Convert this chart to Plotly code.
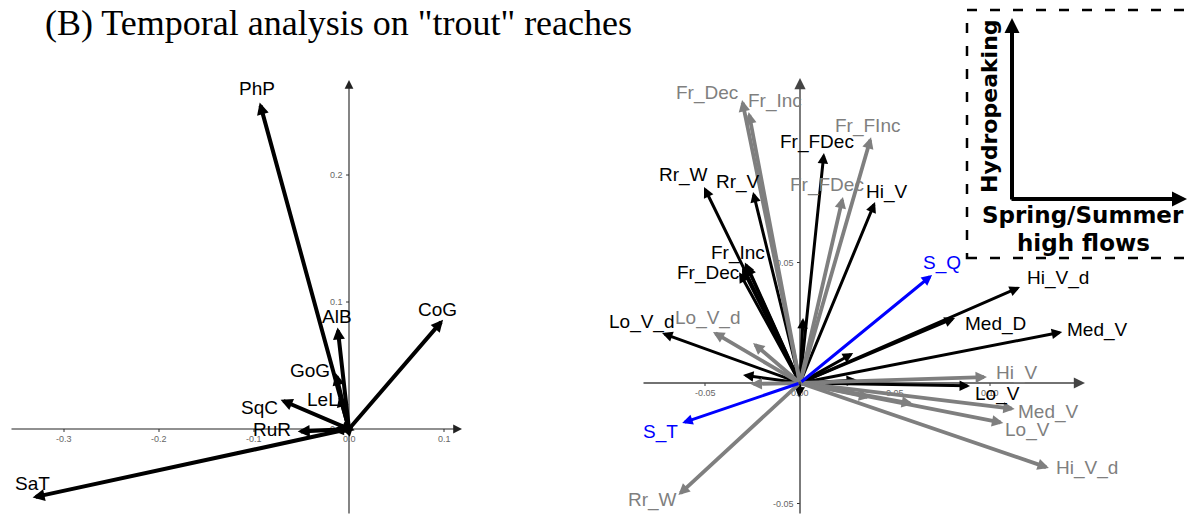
import plotly.graph_objects as go

# ---------------- data ----------------
title_text = '(B) Temporal analysis on "trout" reaches'

# Left panel (species PCA loadings)
left_names = ["PhP", "CoG", "AlB", "GoG", "LeL", "SqC", "RuR", "SaT", "", "", ""]
left_x = [-0.094, 0.099, -0.012, -0.014, -0.010, -0.072, -0.054, -0.333, -0.018, 0.005, 0.006]
left_y = [0.257, 0.086, 0.080, 0.044, 0.027, 0.023, -0.002, -0.054, -0.001, 0.004, -0.001]

# Right panel: grey vectors
gray_names = ["Fr_Dec", "Fr_Inc", "Fr_FInc", "Fr_FDec", "Lo_V_d", "Hi_V", "Med_V", "Lo_V", "Hi_V_d", "Rr_W",
              "", "", "", ""]
gray_x = [-0.0305, -0.0270, 0.0374, 0.0226, -0.0458, 0.0984, 0.1130, 0.1070, 0.1310, -0.0640,
          -0.0247, -0.0260, 0.0595, 0.0370]
gray_y = [0.1174, 0.1124, 0.1020, 0.0772, 0.0212, 0.0025, -0.0108, -0.0166, -0.0353, -0.0465,
          0.0166, -0.0004, -0.0087, -0.0060]

# Right panel: black vectors
black_names = ["Fr_FDec", "Rr_W", "Rr_V", "Hi_V", "Fr_Inc", "Fr_Dec", "Lo_V_d", "Med_D", "Hi_V_d", "Med_V", "Lo_V",
               "", "", "", "", "", "", ""]
black_x = [0.0126, -0.0505, -0.0247, 0.0395, -0.0290, -0.0305, -0.0726, 0.0816, 0.1158, 0.1380, 0.0895,
           0.0016, -0.0300, -0.0005, 0.0280, 0.0300, -0.0280, -0.0320]
black_y = [0.0954, 0.0813, 0.0793, 0.0751, 0.0500, 0.0477, 0.0207, 0.0270, 0.0398, 0.0212, -0.0012,
           0.0270, 0.0033, -0.0060, 0.0124, 0.0012, 0.0490, 0.0460]

# Right panel: supplementary (blue) vectors
blue_names = ["S_Q", "S_T"]
blue_x = [0.0695, -0.0620]
blue_y = [0.0448, -0.0166]

# Tick values / labels
left_xticks = [-0.3, -0.2, -0.1, 0.0, 0.1]
left_xticklabels = ["-0.3", "-0.2", "-0.1", "0.0", "0.1"]
left_yticks = [0.2, 0.1, 0.0]
left_yticklabels = ["0.2", "0.1", "0.0"]
right_xticks = [-0.05, 0.0, 0.05, 0.10]
right_xticklabels = ["-0.05", "0.00", "0.05", "0.10"]
right_yticks = [0.05, -0.05]
right_yticklabels = ["0.05", "-0.05"]

inset_y_text = "Hydropeaking"
inset_x_text = ["Spring/Summer", "high flows"]

# ---------------- layout constants ----------------
OFF = 8                      # page body margin of the browser
W, H = 1198 - OFF, 516 - OFF

def fx(x):                   # reference pixel -> figure pixel
    return x - OFF

def fy(y):
    return y - OFF

# panel geometry in reference pixels
L_dom_px = (OFF, 480)
L_orig = (349, 429)
L_scale = (950, 1270)
R_dom_px = (600, 1198)
R_orig = (800, 383)
R_scale = (1900, 2410)
TOP_PX, BOT_PX = 60, 516

def xrange_of(dom, orig, sc):
    return [(dom[0] - orig[0]) / sc[0], (dom[1] - orig[0]) / sc[0]]

def yrange_of(orig, sc):
    return [(orig[1] - BOT_PX) / sc[1], (orig[1] - TOP_PX) / sc[1]]

fig = go.Figure()
fig.add_trace(go.Scatter(x=[0], y=[0], mode="markers", marker=dict(opacity=0), xaxis="x", yaxis="y",
                         showlegend=False, hoverinfo="skip"))
fig.add_trace(go.Scatter(x=[0], y=[0], mode="markers", marker=dict(opacity=0), xaxis="x2", yaxis="y2",
                         showlegend=False, hoverinfo="skip"))

ydom = [max(0.0, 1 - fy(BOT_PX) / H), 1 - fy(TOP_PX) / H]
fig.update_layout(
    width=W, height=H, margin=dict(l=0, r=0, t=0, b=0),
    paper_bgcolor="white", plot_bgcolor="white", showlegend=False,
    xaxis=dict(domain=[fx(L_dom_px[0]) / W, fx(L_dom_px[1]) / W], range=xrange_of(L_dom_px, L_orig, L_scale),
               visible=False, fixedrange=True),
    yaxis=dict(domain=ydom, range=yrange_of(L_orig, L_scale), visible=False, fixedrange=True),
    xaxis2=dict(domain=[fx(R_dom_px[0]) / W, min(1.0, fx(R_dom_px[1]) / W)],
                range=xrange_of(R_dom_px, R_orig, R_scale), visible=False, fixedrange=True, anchor="y2"),
    yaxis2=dict(domain=ydom, range=yrange_of(R_orig, R_scale), visible=False, fixedrange=True, anchor="x2"),
)

ann = []
shapes = []
LABEL_FONT = dict(family="Liberation Sans, Arial", size=19)
TICK_FONT = dict(family="Liberation Sans, Arial", size=9, color="#666666")

def arrow(xr, yr, x, y, x0, y0, color, width, size):
    ann.append(dict(xref=xr, yref=yr, axref=xr, ayref=yr, x=x, y=y, ax=x0, ay=y0, text="",
                    showarrow=True, arrowhead=2, arrowsize=size, arrowwidth=width, arrowcolor=color))

def label(xr, yr, x, y, txt, color, dx, dy):
    ann.append(dict(xref=xr, yref=yr, x=x, y=y, text=txt, showarrow=False, xshift=dx, yshift=dy,
                    font=dict(LABEL_FONT, color=color), xanchor="center", yanchor="middle"))

def axes_lines(xr, yr, orig, sc, xpx, ypx, color, w):
    xa = (xpx[0] - orig[0]) / sc[0]
    xb = (xpx[1] - orig[0]) / sc[0]
    ya = (orig[1] - ypx[0]) / sc[1]
    yb = (orig[1] - ypx[1]) / sc[1]
    arrow(xr, yr, xb, 0, xa, 0, color, w, 1.6)
    arrow(xr, yr, 0, ya, 0, yb, color, w, 1.6)

axes_lines("x", "y", L_orig, L_scale, (10, 462), (80, 515), "#222222", 1.1)
axes_lines("x2", "y2", R_orig, R_scale, (642, 1085), (78, 515), "#444444", 1.4)

def ticks(xr, yr, xt, xl, yt, yl):
    for t, s in zip(xt, xl):
        shapes.append(dict(type="line", xref=xr, yref=yr, x0=t, x1=t, ysizemode="pixel", yanchor=0,
                           y0=0, y1=-3, line=dict(color="#333333", width=1)))
        ann.append(dict(xref=xr, yref=yr, x=t, y=0, text=s, showarrow=False, yshift=-10,
                        font=TICK_FONT, xanchor="center", yanchor="middle"))
    for t, s in zip(yt, yl):
        shapes.append(dict(type="line", xref=xr, yref=yr, y0=t, y1=t, xsizemode="pixel", xanchor=0,
                           x0=0, x1=-3, line=dict(color="#333333", width=1)))
        ann.append(dict(xref=xr, yref=yr, x=0, y=t, text=s, showarrow=False, xshift=-4,
                        font=TICK_FONT, xanchor="right", yanchor="middle"))

ticks("x", "y", left_xticks, left_xticklabels, left_yticks, left_yticklabels)
ticks("x2", "y2", right_xticks, right_xticklabels, right_yticks, right_yticklabels)

# ---- label offsets (pixels) ----
left_off = {"PhP": (-3, 14), "CoG": (-6, 10), "AlB": (-1, 11), "GoG": (-26, 3), "LeL": (-17, -5),
            "SqC": (-21, -8), "RuR": (-26, 2), "SaT": (0, 14)}
black_off = {"Fr_FDec": (-7, 11), "Rr_W": (-21, 12), "Rr_V": (-15, 10), "Hi_V": (12, 10),
             "Fr_Inc": (-7, 10), "Fr_Dec": (-34, -5), "Lo_V_d": (-20, 11), "Med_D": (40, -6),
             "Hi_V_d": (38, 9), "Med_V": (35, 2), "Lo_V": (27, -8)}
gray_off = {"Fr_Dec": (-35, 7), "Fr_Inc": (26, 11), "Fr_FInc": (-4, 11), "Fr_FDec": (-16, 12),
            "Lo_V_d": (-5, 14), "Hi_V": (30, 4), "Med_V": (34, -3), "Lo_V": (24, -7),
            "Hi_V_d": (38, 0), "Rr_W": (-26, -5)}
blue_off = {"S_Q": (10, 12), "S_T": (-22, -9)}

GRAY = "#7f7f7f"
BLUE = "#0000ff"

for n, x, y in zip(left_names, left_x, left_y):
    arrow("x", "y", x, y, 0, 0, "black", 4, 0.6)
for n, x, y in zip(left_names, left_x, left_y):
    if n:
        dx, dy = left_off[n]
        label("x", "y", x, y, n, "black", dx, dy)

for n, x, y in zip(black_names, black_x, black_y):
    arrow("x2", "y2", x, y, 0, 0, "black", 3, 0.7)
for n, x, y in zip(gray_names, gray_x, gray_y):
    arrow("x2", "y2", x, y, 0, 0, GRAY, 3.8, 0.6)
for n, x, y in zip(blue_names, blue_x, blue_y):
    arrow("x2", "y2", x, y, 0, 0, BLUE, 3, 0.7)

for n, x, y in zip(gray_names, gray_x, gray_y):
    if n:
        dx, dy = gray_off[n]
        label("x2", "y2", x, y, n, GRAY, dx, dy)
for n, x, y in zip(black_names, black_x, black_y):
    if n:
        dx, dy = black_off[n]
        label("x2", "y2", x, y, n, "black", dx, dy)
for n, x, y in zip(blue_names, blue_x, blue_y):
    dx, dy = blue_off[n]
    label("x2", "y2", x, y, n, BLUE, dx, dy)

# ---- paper helpers ----
def px(x):
    return fx(x) / W

def py(y):
    return 1 - fy(y) / H

# ---- title ----
ann.append(dict(xref="paper", yref="paper", x=px(338), y=py(23), text=title_text, showarrow=False,
                font=dict(family="Liberation Serif, Times New Roman", size=36, color="black"),
                xanchor="center", yanchor="middle"))

# ---- inset ----
shapes.append(dict(type="rect", xref="paper", yref="paper", x0=px(967), x1=px(1193), y0=py(258), y1=py(10),
                   line=dict(color="black", width=2.5, dash="10px,13px"), fillcolor="rgba(0,0,0,0)"))
ann.append(dict(xref="paper", yref="paper", x=px(1012), y=py(18), ax=0, ay=183, text="", showarrow=True,
                arrowhead=2, arrowsize=0.75, arrowwidth=4, arrowcolor="black"))
ann.append(dict(xref="paper", yref="paper", x=px(1187), y=py(199), ax=-177, ay=0, text="", showarrow=True,
                arrowhead=2, arrowsize=0.75, arrowwidth=4, arrowcolor="black"))
INSET_FONT = dict(family="DejaVu Sans", size=23, color="black")
ann.append(dict(xref="paper", yref="paper", x=px(989), y=py(106), text="<b>%s</b>" % inset_y_text,
                showarrow=False, textangle=-90, font=dict(INSET_FONT, size=22), xanchor="center", yanchor="middle"))
ann.append(dict(xref="paper", yref="paper", x=px(1083), y=py(215), text="<b>%s</b>" % inset_x_text[0],
                showarrow=False, font=INSET_FONT, xanchor="center", yanchor="middle"))
ann.append(dict(xref="paper", yref="paper", x=px(1083), y=py(243), text="<b>%s</b>" % inset_x_text[1],
                showarrow=False, font=INSET_FONT, xanchor="center", yanchor="middle"))

fig.update_layout(annotations=ann, shapes=shapes)
fig.write_html("out.html")
